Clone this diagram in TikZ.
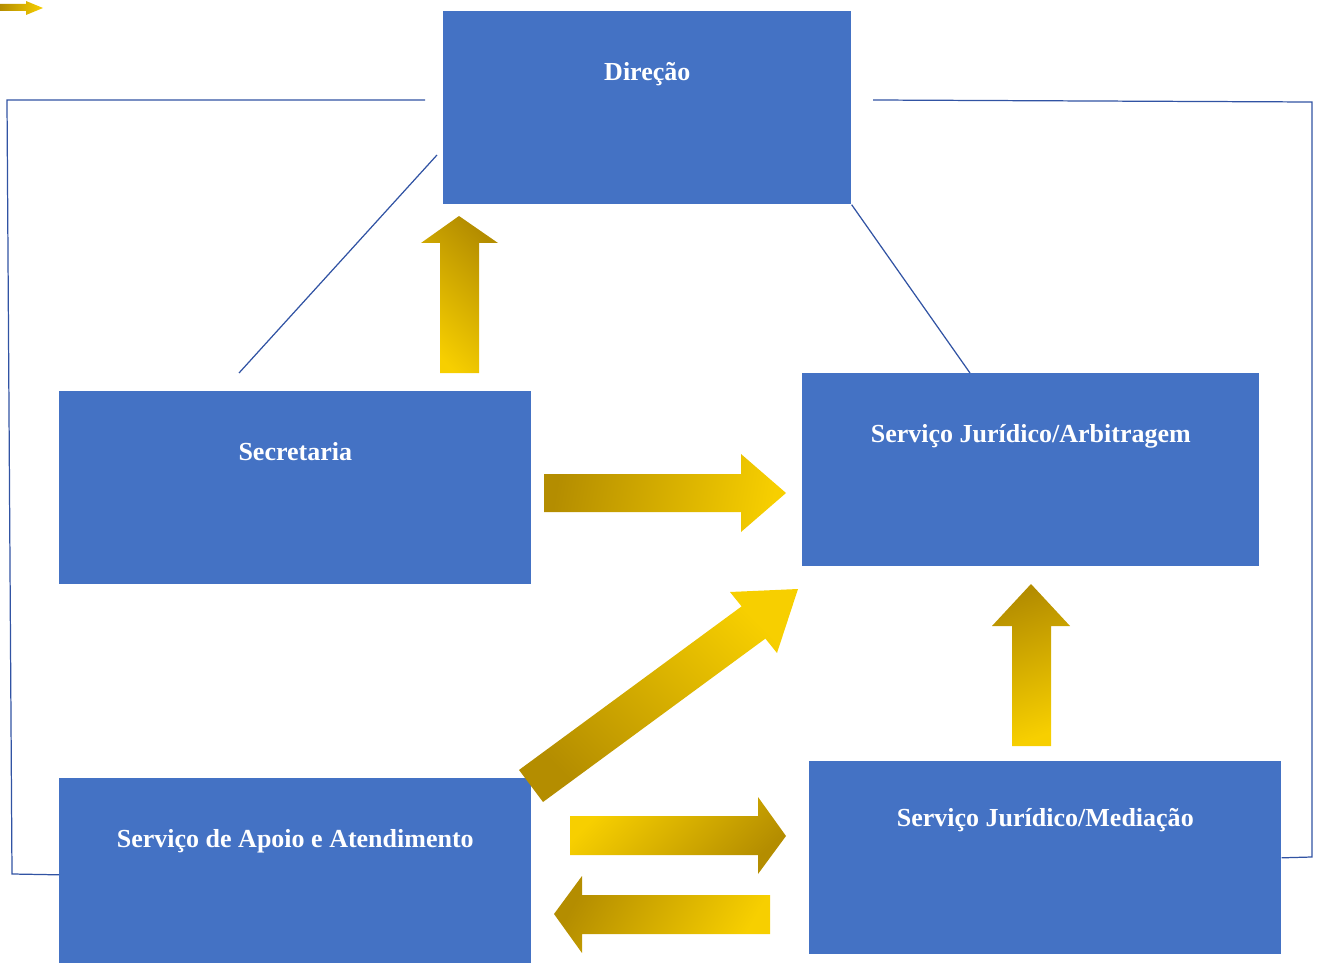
\documentclass[tikz,border=0pt]{standalone}
\usepackage{fontspec}
\setmainfont{Liberation Serif}
\definecolor{boxblue}{HTML}{4472C4}
\definecolor{linkblue}{HTML}{3153A3}
\definecolor{goldlight}{HTML}{F7CF00}
\definecolor{golddark}{HTML}{B48D00}
\tikzset{
  unit/.style={fill=boxblue, text=white, font=\bfseries\fontsize{14.8}{17}\selectfont,
    anchor=north west, inner sep=0pt, minimum width=#1,
    text height=1.38cm, text depth=2.48cm},
  frame/.style={draw=linkblue, line width=0.7pt},
  goldarrow/.style={top color=golddark, bottom color=goldlight, shading angle=#1},
}
\begin{document}
\begin{tikzpicture}[x=0.02cm,y=-0.02cm]
    \useasboundingbox (0,0) rectangle (1320,963);

    % units
    \node[unit=8.16cm] (direcao) at (443,11) {Direção};
    \node[unit=9.44cm] (secretaria) at (59,391) {Secretaria};
    \node[unit=9.14cm] (arbitragem) at (802,373) {Serviço Jurídico/Arbitragem};
    \node[unit=9.44cm] (apoio) at (59,778) {Serviço de Apoio e Atendimento};
    \node[unit=9.44cm, text height=1.3cm, text depth=2.56cm] (mediacao) at (809,761)
        {Serviço Jurídico/Mediação};

    % thin links
    \coordinate (dl) at (425,100);
    \coordinate (dr) at (873,100);
    \coordinate (dd) at (437,155);
    \coordinate (sd) at (239,373);
    \coordinate (ad) at (970,373);
    \draw[frame] (dl) -- (7,100) -- (12,874) -- (apoio.west);
    \draw[frame] (dr) -- (1312,102) -- (1312,857) -- (mediacao.east);
    \draw[frame] (dd) -- (sd);
    \draw[frame] (direcao.south east) -- (ad);

    % block arrows
    \shade[goldarrow=-45] (440,373) -- (440,243) -- (421,243) -- (459,216)
        -- (498,243) -- (479,243) -- (479,373) -- cycle;
    \shade[goldarrow=80] (544,474) -- (741,474) -- (741,454) -- (786,493)
        -- (741,532) -- (741,512) -- (544,512) -- cycle;
    \shade[goldarrow=135] (519,770) -- (741.6,606.4) -- (730,592) -- (798,589)
        -- (777,653) -- (765.4,638.6) -- (543,802) -- cycle;
    \shade[goldarrow=20] (1012,746) -- (1012,626) -- (992,626) -- (1031,584)
        -- (1070,626) -- (1051,626) -- (1051,746) -- cycle;
    \shade[goldarrow=-135] (570,816) -- (758,816) -- (758,797) -- (786,836)
        -- (758,874) -- (758,855) -- (570,855) -- cycle;
    \shade[goldarrow=60] (770,895) -- (582,895) -- (582,876) -- (554,914)
        -- (582,953) -- (582,934) -- (770,934) -- cycle;
    \shade[goldarrow=90] (0,4) -- (26,4) -- (26,1) -- (43,8)
        -- (26,15) -- (26,11) -- (0,11) -- cycle;
\end{tikzpicture}
\end{document}
